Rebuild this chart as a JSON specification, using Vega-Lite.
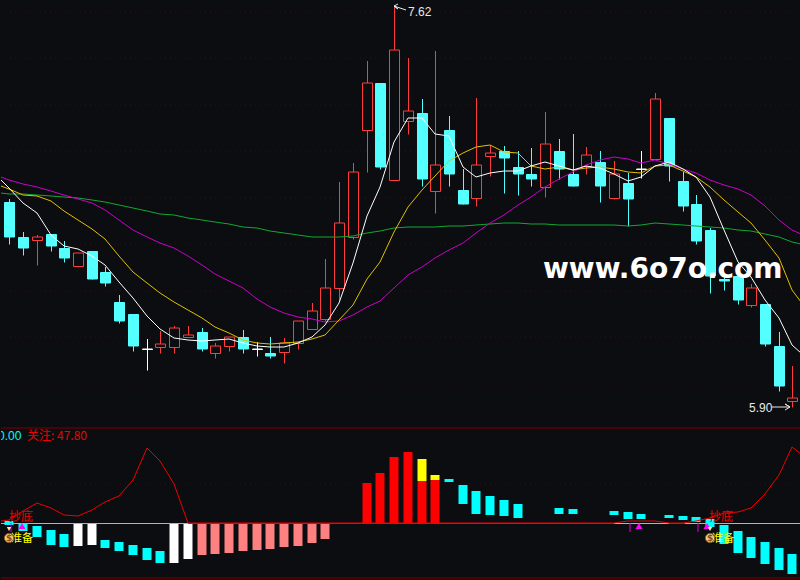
{"$schema":"https://vega.github.io/schema/vega-lite/v6.json","background":"#0c0d10","padding":0,"autosize":{"type":"pad","contains":"content"},"bounds":"flush","spacing":0,"resolve":{"scale":{"fill":"independent","stroke":"independent"}},"config":{"view":{"stroke":null},"concat":{"spacing":0}},
"datasets":{
"candles":[
{"i":0,"o":6.782,"h":6.794,"l":6.601,"c":6.631,"s":"down"},{"i":1,"o":6.631,"h":6.653,"l":6.554,"c":6.584,"s":"down"},{"i":2,"o":6.619,"h":6.640,"l":6.511,"c":6.630,"s":"up"},{"i":3,"o":6.644,"h":6.644,"l":6.571,"c":6.592,"s":"down"},{"i":4,"o":6.584,"h":6.614,"l":6.524,"c":6.541,"s":"down"},{"i":5,"o":6.508,"h":6.564,"l":6.502,"c":6.562,"s":"up"},{"i":6,"o":6.571,"h":6.571,"l":6.450,"c":6.450,"s":"down"},{"i":7,"o":6.481,"h":6.502,"l":6.420,"c":6.433,"s":"down"},{"i":8,"o":6.352,"h":6.382,"l":6.261,"c":6.270,"s":"down"},{"i":9,"o":6.300,"h":6.300,"l":6.141,"c":6.162,"s":"down"},
{"i":10,"o":6.148,"h":6.192,"l":6.059,"c":6.148,"s":"flat"},{"i":11,"o":6.159,"h":6.227,"l":6.132,"c":6.170,"s":"up"},{"i":12,"o":6.159,"h":6.248,"l":6.132,"c":6.238,"s":"up"},{"i":13,"o":6.200,"h":6.248,"l":6.200,"c":6.208,"s":"up"},{"i":14,"o":6.222,"h":6.240,"l":6.141,"c":6.149,"s":"down"},{"i":15,"o":6.131,"h":6.175,"l":6.111,"c":6.161,"s":"up"},{"i":16,"o":6.161,"h":6.202,"l":6.141,"c":6.200,"s":"up"},{"i":17,"o":6.201,"h":6.231,"l":6.132,"c":6.149,"s":"down"},{"i":18,"o":6.148,"h":6.180,"l":6.119,"c":6.148,"s":"flat"},{"i":19,"o":6.132,"h":6.201,"l":6.111,"c":6.119,"s":"down"},
{"i":20,"o":6.138,"h":6.197,"l":6.091,"c":6.176,"s":"up"},{"i":21,"o":6.176,"h":6.269,"l":6.149,"c":6.269,"s":"up"},{"i":22,"o":6.237,"h":6.346,"l":6.235,"c":6.312,"s":"up"},{"i":23,"o":6.280,"h":6.535,"l":6.270,"c":6.410,"s":"up"},{"i":24,"o":6.410,"h":6.868,"l":6.360,"c":6.690,"s":"up"},{"i":25,"o":6.630,"h":6.949,"l":6.624,"c":6.909,"s":"up"},{"i":26,"o":7.090,"h":7.388,"l":6.911,"c":7.292,"s":"up"},{"i":27,"o":7.293,"h":7.293,"l":6.923,"c":6.932,"s":"down"},{"i":28,"o":6.877,"h":7.620,"l":6.877,"c":7.434,"s":"up"},{"i":29,"o":7.131,"h":7.401,"l":7.074,"c":7.172,"s":"up"},
{"i":30,"o":7.164,"h":7.224,"l":6.850,"c":6.880,"s":"down"},{"i":31,"o":6.830,"h":7.431,"l":6.736,"c":6.939,"s":"up"},{"i":32,"o":7.091,"h":7.151,"l":6.850,"c":6.902,"s":"down"},{"i":33,"o":6.833,"h":6.923,"l":6.773,"c":6.773,"s":"down"},{"i":34,"o":6.800,"h":7.229,"l":6.764,"c":6.939,"s":"up"},{"i":35,"o":6.981,"h":7.027,"l":6.893,"c":6.991,"s":"up"},{"i":36,"o":7.001,"h":7.022,"l":6.820,"c":6.971,"s":"down"},{"i":37,"o":6.932,"h":7.001,"l":6.812,"c":6.902,"s":"down"},{"i":38,"o":6.902,"h":7.014,"l":6.850,"c":6.880,"s":"down"},{"i":39,"o":6.847,"h":7.167,"l":6.803,"c":7.030,"s":"up"},
{"i":40,"o":7.001,"h":7.052,"l":6.880,"c":6.923,"s":"down"},{"i":41,"o":6.902,"h":7.074,"l":6.850,"c":6.850,"s":"down"},{"i":42,"o":6.936,"h":7.018,"l":6.902,"c":6.982,"s":"up"},{"i":43,"o":6.954,"h":7.001,"l":6.782,"c":6.850,"s":"down"},{"i":44,"o":6.800,"h":6.958,"l":6.794,"c":6.902,"s":"up"},{"i":45,"o":6.863,"h":6.906,"l":6.678,"c":6.794,"s":"down"},{"i":46,"o":6.922,"h":7.001,"l":6.885,"c":6.922,"s":"flat"},{"i":47,"o":6.968,"h":7.250,"l":6.968,"c":7.223,"s":"up"},{"i":48,"o":7.143,"h":7.143,"l":6.872,"c":6.936,"s":"down"},{"i":49,"o":6.872,"h":6.911,"l":6.743,"c":6.764,"s":"down"},
{"i":50,"o":6.773,"h":6.812,"l":6.601,"c":6.614,"s":"down"},{"i":51,"o":6.661,"h":6.670,"l":6.392,"c":6.463,"s":"down"},{"i":52,"o":6.450,"h":6.459,"l":6.403,"c":6.442,"s":"down"},{"i":53,"o":6.463,"h":6.463,"l":6.343,"c":6.360,"s":"down"},{"i":54,"o":6.340,"h":6.429,"l":6.330,"c":6.410,"s":"up"},{"i":55,"o":6.343,"h":6.343,"l":6.162,"c":6.171,"s":"down"},{"i":56,"o":6.162,"h":6.222,"l":5.969,"c":5.990,"s":"down"},{"i":57,"o":5.927,"h":6.076,"l":5.900,"c":5.937,"s":"up"}],
"ma":[
{"i":-0.604,"w":6.876,"y":6.850,"m":6.889,"g":6.820},{"i":0,"w":6.842,"y":6.837,"m":6.876,"g":6.816},{"i":1,"w":6.777,"y":6.812,"m":6.859,"g":6.814},{"i":2,"w":6.734,"y":6.807,"m":6.846,"g":6.812},{"i":3,"w":6.640,"y":6.787,"m":6.829,"g":6.809},{"i":4,"w":6.592,"y":6.744,"m":6.812,"g":6.804},{"i":5,"w":6.579,"y":6.704,"m":6.794,"g":6.799},{"i":6,"w":6.549,"y":6.665,"m":6.777,"g":6.790},{"i":7,"w":6.511,"y":6.622,"m":6.747,"g":6.782},{"i":8,"w":6.438,"y":6.549,"m":6.704,"g":6.769},{"i":9,"w":6.369,"y":6.482,"m":6.661,"g":6.757},
{"i":10,"w":6.291,"y":6.433,"m":6.631,"g":6.744},{"i":11,"w":6.235,"y":6.390,"m":6.605,"g":6.730},{"i":12,"w":6.197,"y":6.352,"m":6.584,"g":6.725},{"i":13,"w":6.188,"y":6.317,"m":6.549,"g":6.714},{"i":14,"w":6.184,"y":6.283,"m":6.511,"g":6.704},{"i":15,"w":6.188,"y":6.244,"m":6.472,"g":6.695},{"i":16,"w":6.192,"y":6.218,"m":6.442,"g":6.687},{"i":17,"w":6.175,"y":6.188,"m":6.412,"g":6.675},{"i":18,"w":6.162,"y":6.175,"m":6.364,"g":6.670},{"i":19,"w":6.158,"y":6.170,"m":6.330,"g":6.658},
{"i":20,"w":6.159,"y":6.175,"m":6.304,"g":6.648},{"i":21,"w":6.175,"y":6.180,"m":6.287,"g":6.641},{"i":22,"w":6.201,"y":6.192,"m":6.278,"g":6.632},{"i":23,"w":6.253,"y":6.210,"m":6.265,"g":6.630},{"i":24,"w":6.347,"y":6.274,"m":6.270,"g":6.630},{"i":25,"w":6.519,"y":6.339,"m":6.295,"g":6.635},{"i":26,"w":6.721,"y":6.450,"m":6.330,"g":6.648},{"i":27,"w":6.846,"y":6.524,"m":6.356,"g":6.658},{"i":28,"w":7.040,"y":6.653,"m":6.412,"g":6.670},{"i":29,"w":7.143,"y":6.760,"m":6.467,"g":6.675},
{"i":30,"w":7.143,"y":6.833,"m":6.502,"g":6.675},{"i":31,"w":7.074,"y":6.893,"m":6.541,"g":6.675},{"i":32,"w":7.065,"y":6.958,"m":6.575,"g":6.680},{"i":33,"w":6.932,"y":6.992,"m":6.605,"g":6.677},{"i":34,"w":6.889,"y":7.018,"m":6.648,"g":6.681},{"i":35,"w":6.906,"y":7.027,"m":6.691,"g":6.686},{"i":36,"w":6.915,"y":6.996,"m":6.725,"g":6.690},{"i":37,"w":6.915,"y":6.992,"m":6.769,"g":6.690},{"i":38,"w":6.936,"y":6.936,"m":6.803,"g":6.687},{"i":39,"w":6.954,"y":6.923,"m":6.846,"g":6.686},
{"i":40,"w":6.936,"y":6.932,"m":6.880,"g":6.684},{"i":41,"w":6.919,"y":6.919,"m":6.911,"g":6.684},{"i":42,"w":6.936,"y":6.928,"m":6.941,"g":6.683},{"i":43,"w":6.928,"y":6.932,"m":6.962,"g":6.683},{"i":44,"w":6.902,"y":6.923,"m":6.975,"g":6.683},{"i":45,"w":6.872,"y":6.911,"m":6.966,"g":6.680},{"i":46,"w":6.889,"y":6.906,"m":6.949,"g":6.684},{"i":47,"w":6.936,"y":6.936,"m":6.962,"g":6.690},{"i":48,"w":6.954,"y":6.941,"m":6.945,"g":6.686},{"i":49,"w":6.923,"y":6.915,"m":6.923,"g":6.684},
{"i":50,"w":6.889,"y":6.889,"m":6.906,"g":6.680},{"i":51,"w":6.803,"y":6.846,"m":6.876,"g":6.673},{"i":52,"w":6.661,"y":6.790,"m":6.855,"g":6.671},{"i":53,"w":6.524,"y":6.738,"m":6.837,"g":6.661},{"i":54,"w":6.459,"y":6.691,"m":6.812,"g":6.655},{"i":55,"w":6.360,"y":6.618,"m":6.764,"g":6.644},{"i":56,"w":6.283,"y":6.541,"m":6.704,"g":6.632},{"i":57,"w":6.167,"y":6.403,"m":6.661,"g":6.611},{"i":57.62,"w":6.132,"y":6.352,"m":6.644,"g":6.601}],
"bars":[
{"i":0,"a":1.4,"b":-1.1,"k":"c"},{"i":1,"a":0,"b":-4.9,"k":"c"},{"i":2,"a":-1.7,"b":-8.6,"k":"c"},{"i":3,"a":-4.2,"b":-13.7,"k":"c"},{"i":4,"a":-6.7,"b":-14.9,"k":"c"},{"i":5,"a":0,"b":-14.3,"k":"w"},{"i":6,"a":0,"b":-13.7,"k":"w"},{"i":7,"a":-10.5,"b":-15.6,"k":"c"},{"i":8,"a":-11.8,"b":-17.5,"k":"c"},{"i":9,"a":-13.7,"b":-20,"k":"c"},{"i":10,"a":-15.6,"b":-23.1,"k":"c"},{"i":11,"a":-17.5,"b":-25,"k":"c"},{"i":12,"a":0,"b":-25,"k":"w"},{"i":13,"a":0,"b":-22.5,"k":"w"},
{"i":14,"a":0,"b":-20,"k":"p"},{"i":15,"a":0,"b":-19.3,"k":"p"},{"i":16,"a":0,"b":-18.7,"k":"p"},{"i":17,"a":0,"b":-17.5,"k":"p"},{"i":18,"a":0,"b":-16.8,"k":"p"},{"i":19,"a":0,"b":-16.2,"k":"p"},{"i":20,"a":0,"b":-14.9,"k":"p"},{"i":21,"a":0,"b":-14.3,"k":"p"},{"i":22,"a":0,"b":-12.4,"k":"p"},{"i":23,"a":0,"b":-9.9,"k":"p"},
{"i":26,"a":0,"b":25.4,"k":"r"},{"i":27,"a":0,"b":31.7,"k":"r"},{"i":28,"a":0,"b":41.8,"k":"r"},{"i":29,"a":0,"b":44.9,"k":"r"},{"i":30,"a":0,"b":26.6,"k":"r"},{"i":30,"a":26.6,"b":40.5,"k":"y"},{"i":31,"a":0,"b":27.3,"k":"r"},{"i":31,"a":27.3,"b":30.4,"k":"y"},
{"i":32,"a":27.9,"b":26,"k":"c"},{"i":33,"a":24.1,"b":12.2,"k":"c"},{"i":34,"a":20.3,"b":5.9,"k":"c"},{"i":35,"a":17.2,"b":5.2,"k":"c"},{"i":36,"a":14.7,"b":4.6,"k":"c"},{"i":37,"a":12.2,"b":3.3,"k":"c"},{"i":40,"a":9.6,"b":5.9,"k":"c"},{"i":41,"a":9,"b":5.9,"k":"c"},{"i":44,"a":7.7,"b":5.2,"k":"c"},{"i":45,"a":7.1,"b":2.7,"k":"c"},{"i":46,"a":5.9,"b":2.7,"k":"c"},{"i":48,"a":5.2,"b":3.3,"k":"c"},{"i":49,"a":4.6,"b":2.1,"k":"c"},{"i":50,"a":4,"b":0.8,"k":"c"},{"i":51,"a":2.7,"b":-2.3,"k":"c"},{"i":52,"a":-1.1,"b":-13,"k":"c"},{"i":53,"a":-4.9,"b":-18.7,"k":"c"},{"i":54,"a":-8.6,"b":-21.9,"k":"c"},{"i":55,"a":-11.8,"b":-25.6,"k":"c"},{"i":56,"a":-15.6,"b":-29.4,"k":"c"},{"i":57,"a":-19.3,"b":-31.9,"k":"c"}],
"watch":[
{"i":-0.604,"v":1.6},{"i":0,"v":2.1},{"i":1,"v":7.7},{"i":2,"v":12.8},{"i":3,"v":9.6},{"i":4,"v":5.2},{"i":5,"v":4.6},{"i":6,"v":8.4},{"i":7,"v":13.4},{"i":8,"v":17.2},{"i":9,"v":27.3},{"i":10,"v":47.4},{"i":11,"v":39.2},{"i":12,"v":24.8},{"i":13,"v":0},{"i":44,"v":0},{"i":45,"v":1.6},{"i":46,"v":1.6},{"i":47,"v":1.6},{"i":48,"v":0},{"i":49,"v":0},{"i":50,"v":1.6},{"i":51,"v":3.5},{"i":52,"v":6.5},{"i":53,"v":7.3},{"i":54,"v":9.4},{"i":55,"v":18.4},{"i":56,"v":30.4},{"i":57,"v":47.8},{"i":57.62,"v":43.7}],
"zero":[{"i":-0.604,"j":13},{"i":44,"j":48},{"i":49.2,"j":57.62}],
"signal":[{"i":0.15},{"i":45.15},{"i":50.15}],
"tri":[{"i":0.89},{"i":45.8},{"i":50.8}],
"bag":[{"i":0.01},{"i":51.03}],
"arrows":[{"n":"hi","i":28.3,"p":7.633,"t":0},{"n":"hi","i":28,"p":7.624,"t":1},{"n":"hi","i":28.3,"p":7.611,"t":2},{"n":"hi","i":28,"p":7.624,"t":3},{"n":"hi","i":28.87,"p":7.607,"t":4},{"n":"lo","i":55.5,"p":5.9,"t":0},{"n":"lo","i":56.8,"p":5.9,"t":1},{"n":"lo","i":56.45,"p":5.913,"t":2},{"n":"lo","i":56.8,"p":5.9,"t":3},{"n":"lo","i":56.45,"p":5.887,"t":4}]
},
"vconcat":[
{"width":800,"height":428,"layer":[
{"data":{"values":[{"p":6.0},{"p":6.2},{"p":6.4},{"p":6.6},{"p":6.8},{"p":7.0},{"p":7.2},{"p":7.4},{"p":7.6}]},"mark":{"type":"rule","stroke":"#3c0a0c","strokeDash":[1,4],"strokeWidth":1},"encoding":{"y":{"field":"p","type":"quantitative","axis":null,"scale":{"domain":[5.8097,7.6501],"nice":false,"zero":false,"round":true}}}},
{"encoding":{"x":{"field":"i","type":"quantitative","axis":null,"scale":{"domain":[-0.604,57.62],"nice":false,"zero":false,"padding":0,"round":true}}},"layer":[
{"data":{"name":"candles"},"mark":{"type":"rule","strokeWidth":1,"clip":true,"xOffset":0.5,"yOffset":0.5},"encoding":{"y":{"field":"l","type":"quantitative","axis":null,"scale":{"domain":[5.8097,7.6501],"nice":false,"zero":false}},"y2":{"field":"h"},"stroke":{"field":"s","type":"nominal","legend":null,"scale":{"domain":["up","down","flat"],"range":["#ff3c3c","#54ffff","#ffffff"]}}}},
{"data":{"name":"candles"},"mark":{"type":"bar","size":10,"strokeWidth":1,"clip":true,"xOffset":0.5,"yOffset":0.5},"encoding":{"y":{"field":"o","type":"quantitative","axis":null,"scale":{"domain":[5.8097,7.6501],"nice":false,"zero":false}},"y2":{"field":"c"},"stroke":{"field":"s","type":"nominal","legend":null,"scale":{"domain":["up","down","flat"],"range":["#ff3c3c","#54ffff","#ffffff"]}},"fill":{"field":"s","type":"nominal","legend":null,"scale":{"domain":["up","down","flat"],"range":["#0c0d10","#54ffff","#ffffff"]}}}},
{"data":{"name":"ma"},"mark":{"type":"line","stroke":"#10a832","strokeWidth":1,"clip":true},"encoding":{"y":{"field":"g","type":"quantitative","axis":null,"scale":{"domain":[5.8097,7.6501],"nice":false,"zero":false}}}},
{"data":{"name":"ma"},"mark":{"type":"line","stroke":"#cc00cc","strokeWidth":1,"clip":true},"encoding":{"y":{"field":"m","type":"quantitative","axis":null,"scale":{"domain":[5.8097,7.6501],"nice":false,"zero":false}}}},
{"data":{"name":"ma"},"mark":{"type":"line","stroke":"#e0c000","strokeWidth":1,"clip":true},"encoding":{"y":{"field":"y","type":"quantitative","axis":null,"scale":{"domain":[5.8097,7.6501],"nice":false,"zero":false}}}},
{"data":{"name":"ma"},"mark":{"type":"line","stroke":"#ffffff","strokeWidth":1,"clip":true},"encoding":{"y":{"field":"w","type":"quantitative","axis":null,"scale":{"domain":[5.8097,7.6501],"nice":false,"zero":false}}}},
{"data":{"name":"arrows"},"mark":{"type":"line","stroke":"#e8e8e8","strokeWidth":1,"clip":true},"encoding":{"y":{"field":"p","type":"quantitative","axis":null,"scale":{"domain":[5.8097,7.6501],"nice":false,"zero":false}},"detail":{"field":"n"},"order":{"field":"t"}}},
{"data":{"values":[{"i":29,"p":7.6,"t":"7.62"},{"i":53.82,"p":5.897,"t":"5.90"}]},"mark":{"type":"text","align":"left","baseline":"middle","font":"Liberation Sans","fontSize":12,"fill":"#e8e8e8"},"encoding":{"y":{"field":"p","type":"quantitative","axis":null,"scale":{"domain":[5.8097,7.6501],"nice":false,"zero":false}},"text":{"field":"t"}}},
{"data":{"values":[{"i":38.85,"p":6.455,"t":"www.6o7o.com"}]},"mark":{"type":"text","align":"left","baseline":"alphabetic","font":"DejaVu Sans","fontWeight":"bold","fontSize":28,"fill":"#ffffff"},"encoding":{"y":{"field":"p","type":"quantitative","axis":null,"scale":{"domain":[5.8097,7.6501],"nice":false,"zero":false}},"text":{"field":"t"}}}
]}]},
{"width":800,"height":152,"layer":[
{"data":{"values":[{"v":25,"n":"grid"}]},"mark":{"type":"rule","stroke":"#3c0a0c","strokeDash":[1,4],"strokeWidth":1},"encoding":{"y":{"field":"v","type":"quantitative","axis":null,"scale":{"domain":[-35.8,60.04],"nice":false,"zero":false,"round":true}}}},
{"data":{"values":[{"v":59.8},{"v":-34.8}]},"mark":{"type":"rule","stroke":"#5c0000","strokeWidth":1.5},"encoding":{"y":{"field":"v","type":"quantitative","axis":null,"scale":{"domain":[-35.8,60.04],"nice":false,"zero":false}}}},
{"encoding":{"x":{"field":"i","type":"quantitative","axis":null,"scale":{"domain":[-0.604,57.62],"nice":false,"zero":false,"padding":0,"round":true}}},"layer":[
{"data":{"name":"bars"},"mark":{"type":"bar","size":9,"clip":true},"encoding":{"y":{"field":"a","type":"quantitative","axis":null,"scale":{"domain":[-35.8,60.04],"nice":false,"zero":false}},"y2":{"field":"b"},"fill":{"field":"k","type":"nominal","legend":null,"scale":{"domain":["c","w","p","r","y"],"range":["#00ffff","#ffffff","#ff8080","#ff0000","#ffff00"]}}}},
{"data":{"values":[{"i":-0.604,"j":57.62,"v":0}]},"mark":{"type":"rule","stroke":"#ff0000","strokeWidth":1,"clip":true,"yOffset":0.5},"encoding":{"x2":{"field":"j"},"y":{"field":"v","type":"quantitative","axis":null,"scale":{"domain":[-35.8,60.04],"nice":false,"zero":false}}}},
{"data":{"name":"zero"},"mark":{"type":"rule","stroke":"#00ffff","strokeWidth":1,"clip":true,"yOffset":0.5},"encoding":{"x2":{"field":"j"},"y":{"datum":0,"scale":{"domain":[-35.8,60.04],"nice":false,"zero":false},"axis":null}}},
{"data":{"name":"watch"},"mark":{"type":"line","stroke":"#f00000","strokeWidth":1,"clip":true},"encoding":{"y":{"field":"v","type":"quantitative","axis":null,"scale":{"domain":[-35.8,60.04],"nice":false,"zero":false}}}},
{"data":{"name":"signal"},"mark":{"type":"rule","stroke":"#e000e0","strokeWidth":1},"encoding":{"y":{"datum":0,"scale":{"domain":[-35.8,60.04],"nice":false,"zero":false},"axis":null},"y2":{"datum":-5.5}}},
{"data":{"name":"tri"},"mark":{"type":"point","shape":"triangle-up","filled":true,"fill":"#ff00ff","opacity":1,"size":50},"encoding":{"y":{"datum":-1.7,"scale":{"domain":[-35.8,60.04],"nice":false,"zero":false},"axis":null}}},
{"data":{"values":[{"i":0.85,"v":4,"t":"抄底"},{"i":51.8,"v":4,"t":"抄底"}]},"mark":{"type":"text","align":"center","baseline":"middle","font":"Noto Sans CJK SC","fontSize":12,"fill":"#f00000"},"encoding":{"y":{"field":"v","type":"quantitative","axis":null,"scale":{"domain":[-35.8,60.04],"nice":false,"zero":false}},"text":{"field":"t"}}},
{"data":{"values":[{"i":0.92,"v":-10.2,"t":"准备"},{"i":51.95,"v":-10.2,"t":"准备"}]},"mark":{"type":"text","align":"center","baseline":"middle","font":"Noto Sans CJK SC","fontSize":11,"fill":"#ffff00"},"encoding":{"y":{"field":"v","type":"quantitative","axis":null,"scale":{"domain":[-35.8,60.04],"nice":false,"zero":false}},"text":{"field":"t"}}},
{"data":{"name":"bag"},"mark":{"type":"point","shape":"circle","filled":true,"fill":"#f0cc80","stroke":"#8a5a20","strokeWidth":1,"opacity":1,"size":85},"encoding":{"y":{"datum":-9.5,"scale":{"domain":[-35.8,60.04],"nice":false,"zero":false},"axis":null}}},
{"data":{"name":"bag"},"mark":{"type":"point","shape":"triangle-down","filled":true,"fill":"#f8e8a0","opacity":1,"size":20},"encoding":{"y":{"datum":-3.4,"scale":{"domain":[-35.8,60.04],"nice":false,"zero":false},"axis":null}}},
{"data":{"values":[{"i":0.01,"t":"$"},{"i":51.03,"t":"$"}]},"mark":{"type":"text","align":"center","baseline":"middle","font":"DejaVu Sans","fontWeight":"bold","fontSize":9,"fill":"#8a4a10"},"encoding":{"y":{"datum":-9.5,"scale":{"domain":[-35.8,60.04],"nice":false,"zero":false},"axis":null},"text":{"field":"t"}}},
{"data":{"values":[{"i":-0.604,"v":55,"t":"0.00"}]},"mark":{"type":"text","align":"left","baseline":"middle","dx":-3,"font":"Liberation Sans","fontSize":12,"fill":"#00ffff","clip":true},"encoding":{"y":{"field":"v","type":"quantitative","axis":null,"scale":{"domain":[-35.8,60.04],"nice":false,"zero":false}},"text":{"field":"t"}}},
{"data":{"values":[{"i":1.29,"v":55,"t":"关注: 47.80"}]},"mark":{"type":"text","align":"left","baseline":"middle","font":"Noto Sans CJK SC","fontSize":12,"fill":"#f00000"},"encoding":{"y":{"field":"v","type":"quantitative","axis":null,"scale":{"domain":[-35.8,60.04],"nice":false,"zero":false}},"text":{"field":"t"}}}
]}]}
]}
